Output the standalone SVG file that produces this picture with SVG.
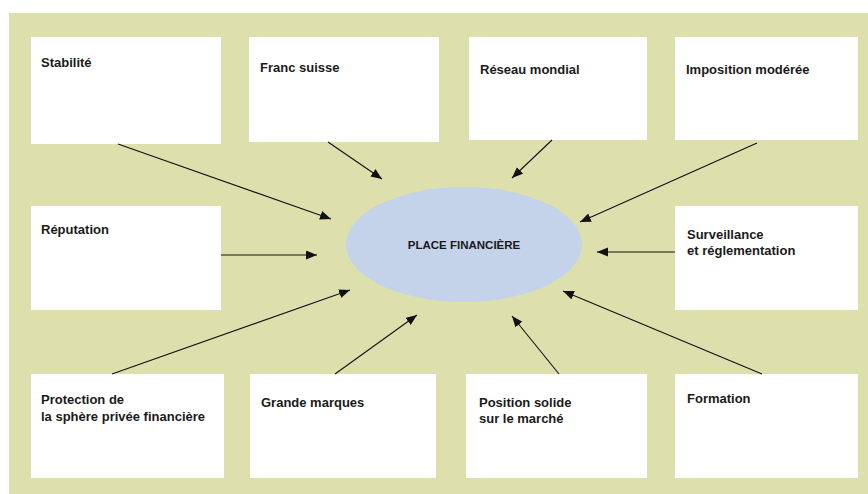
<svg xmlns="http://www.w3.org/2000/svg" width="868" height="494" viewBox="0 0 868 494">
<style>
.box{fill:#ffffff;}
.lbl{font-family:"Liberation Sans",Arial,sans-serif;font-weight:bold;font-size:13px;fill:#1a1a1a;}
.ctr{font-size:11.5px;text-anchor:middle;}
.con{stroke:#111;stroke-width:1.1;fill:none;marker-end:url(#ah);}
</style>
<defs>
<marker id="ah" markerUnits="userSpaceOnUse" markerWidth="12" markerHeight="10" refX="11" refY="4.5" orient="auto">
<path d="M0,0 L11,4.5 L0,9 z" fill="#111"/>
</marker>
</defs>
<rect x="0" y="0" width="868" height="494" fill="#ffffff"/>
<rect x="9" y="13" width="859" height="481" fill="#dde0ad"/>
<g id="center">
<ellipse cx="464" cy="244.5" rx="118" ry="57.5" fill="#c4d2ea"/>
<text class="lbl ctr" x="464" y="249">PLACE FINANCIÈRE</text>
</g>
<g id="stabilite"><rect class="box" x="31" y="37" width="190" height="107"/><text class="lbl" x="41" y="67">Stabilité</text></g>
<g id="franc"><rect class="box" x="249" y="37" width="190" height="105"/><text class="lbl" x="260" y="72">Franc suisse</text></g>
<g id="reseau"><rect class="box" x="469" y="37" width="178" height="103"/><text class="lbl" x="480" y="74">Réseau mondial</text></g>
<g id="imposition"><rect class="box" x="675" y="37" width="183" height="103"/><text class="lbl" x="686" y="74">Imposition modérée</text></g>
<g id="reputation"><rect class="box" x="31" y="206" width="190" height="104"/><text class="lbl" x="41" y="234">Réputation</text></g>
<g id="surveillance"><rect class="box" x="675" y="206" width="183" height="104"/><text class="lbl" x="687" y="239">Surveillance<tspan x="687" y="255">et réglementation</tspan></text></g>
<g id="protection"><rect class="box" x="31" y="374" width="193" height="104"/><text class="lbl" x="41" y="404">Protection de<tspan x="41" y="421">la sphère privée financière</tspan></text></g>
<g id="marques"><rect class="box" x="250" y="374" width="186" height="104"/><text class="lbl" x="261" y="407">Grande marques</text></g>
<g id="position"><rect class="box" x="466" y="374" width="181" height="104"/><text class="lbl" x="479" y="407">Position solide<tspan x="479" y="423">sur le marché</tspan></text></g>
<g id="formation"><rect class="box" x="675" y="374" width="183" height="104"/><text class="lbl" x="687" y="403">Formation</text></g>
<g id="connectors">
<line class="con" x1="118" y1="144" x2="331" y2="219"/>
<line class="con" x1="328" y1="142" x2="382" y2="179"/>
<line class="con" x1="552" y1="140" x2="512" y2="178"/>
<line class="con" x1="757" y1="143" x2="580" y2="222"/>
<line class="con" x1="221" y1="255" x2="317" y2="255"/>
<line class="con" x1="675" y1="252" x2="597" y2="252"/>
<line class="con" x1="112" y1="374" x2="350" y2="290"/>
<line class="con" x1="335" y1="374" x2="417" y2="315"/>
<line class="con" x1="559" y1="374" x2="512" y2="316"/>
<line class="con" x1="762" y1="374" x2="563" y2="291"/>
</g>
</svg>
